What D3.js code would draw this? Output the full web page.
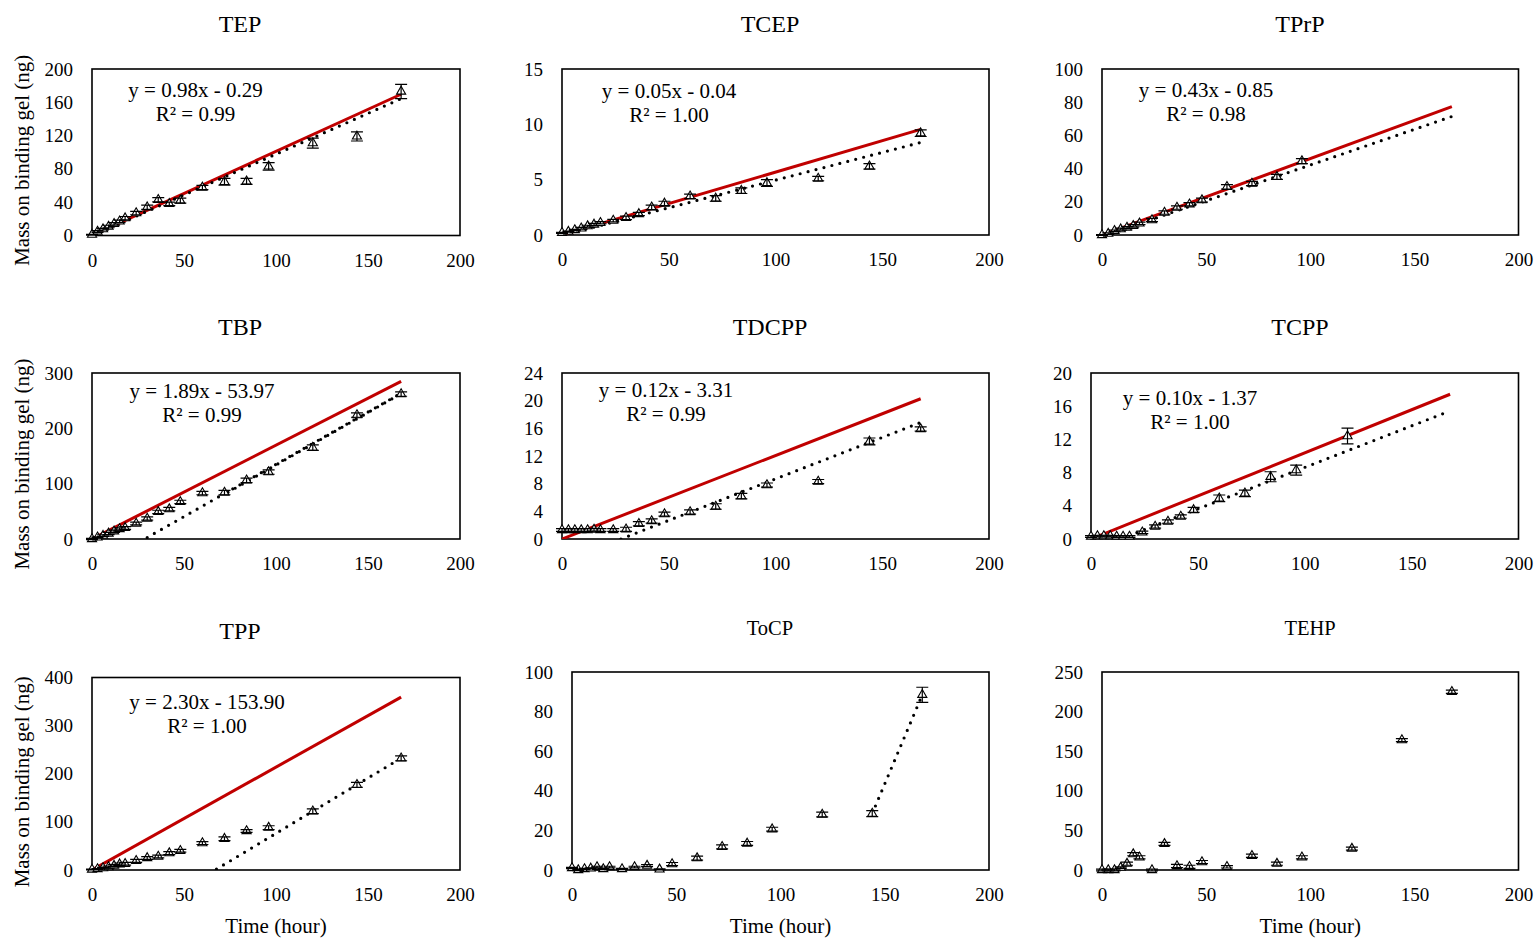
<!DOCTYPE html>
<html>
<head>
<meta charset="utf-8">
<script src="https://cdn.jsdelivr.net/npm/d3@7"></script>
<style>
  html, body { margin: 0; padding: 0; background: #fff; }
  svg { display: block; font-family: "Liberation Serif", "Times New Roman", serif; }
</style>
</head>
<body>
<div id="chart"></div>
<script>
// Sampling times (hour)
const hours = [0, 3, 6, 9, 12, 15, 18, 24, 30, 36, 42, 48, 60, 72, 84, 96, 120, 144, 168];

// Measured mass on binding gel (ng), mean and standard deviation per sampling time
const tepMass  = [1, 4.8, 7.6, 10.8, 14, 17, 20.8, 26.9, 34, 42.9, 38, 42, 57.7, 64.5, 65, 83, 111, 119, 173];
const tepSd    = [0.5, 1, 1, 1.5, 1.5, 1.5, 2, 2, 2.5, 2.5, 2, 3, 2.5, 4, 3.5, 4.5, 6, 5.5, 8.5];

const tcepMass = [0.2, 0.3, 0.45, 0.6, 0.8, 0.95, 1.1, 1.3, 1.55, 1.9, 2.5, 2.85, 3.5, 3.3, 4.0, 4.7, 5.1, 6.2, 9.2];
const tcepSd   = [0.05, 0.05, 0.05, 0.08, 0.08, 0.1, 0.1, 0.12, 0.15, 0.15, 0.2, 0.2, 0.2, 0.25, 0.25, 0.3, 0.2, 0.25, 0.3];

const tprpMass = [0, 0.8, 2.5, 3.5, 4.5, 5.5, 7, 9, 13.5, 16.5, 18.5, 21, 29, 31, 35, 44.5];
const tprpSd   = [0.3, 0.5, 0.5, 0.6, 0.6, 0.8, 0.8, 1, 1, 1, 1, 1.2, 1.3, 1.3, 1.5, 1.5];

const tbpMass  = [0, 3, 6, 10, 14, 18, 20, 28, 37, 49, 54, 67, 83, 84, 106, 121, 165, 224, 262];
const tbpSd    = [1, 1, 1.5, 2, 2, 2, 2.5, 2.5, 3, 3, 3, 3, 3, 4, 4, 4, 5, 4, 4];

const tdcppMass = [1.3, 1.3, 1.3, 1.3, 1.3, 1.35, 1.3, 1.3, 1.4, 2.2, 2.6, 3.6, 3.9, 4.7, 6.2, 7.8, 8.3, 14.1, 15.9];
const tdcppSd   = [0.2, 0.2, 0.2, 0.2, 0.2, 0.2, 0.2, 0.2, 0.3, 0.3, 0.3, 0.3, 0.3, 0.4, 0.4, 0.3, 0.3, 0.5, 0.3];

const tcppMass = [0.3, 0.35, 0.35, 0.35, 0.3, 0.3, 0.3, 0.8, 1.5, 2.1, 2.7, 3.5, 4.9, 5.5, 7.5, 8.3, 12.4];
const tcppSd   = [0.1, 0.1, 0.1, 0.1, 0.1, 0.1, 0.1, 0.15, 0.2, 0.2, 0.2, 0.3, 0.4, 0.4, 0.6, 0.6, 0.95];

const tppMass  = [1, 2, 4, 6, 9, 12, 13, 19, 25, 28, 35, 40, 56, 65, 81, 88, 122, 177, 232];
const tppSd    = [1, 1, 1.5, 2, 2, 2.5, 3, 3, 3, 3, 3, 3, 3, 4, 3, 4, 5, 5, 5];

const tocpMass = [1, 0, 0.5, 0.8, 1.5, 0.5, 1.5, 0.5, 1.5, 2.2, 0.3, 3, 6, 11.7, 13.4, 20.6, 28, 28.5, 88.5];
const tocpSd   = [0.3, 0.3, 0.3, 0.3, 0.4, 0.3, 0.4, 0.3, 0.4, 0.5, 0.3, 0.8, 1, 1, 1, 1, 1.2, 1.5, 3.8];

const tehpMass = [0, 0, 0, 3, 8, 20, 16, 0, 33, 5, 4, 10, 4, 18, 8, 16, 27, 164, 225];
const tehpSd   = [1, 1, 1, 1, 2, 2, 2, 1, 2, 2, 2, 2, 1.5, 2, 2, 2, 2, 2, 2];

// Compound names, y-axis maxima and steps
const compounds = ["TEP", "TCEP", "TPrP", "TBP", "TDCPP", "TCPP", "TPP", "ToCP", "TEHP"];
const yMax  = [200, 15, 100, 300, 24, 20, 400, 100, 250];
const yStep = [40, 5, 20, 100, 4, 4, 100, 20, 50];
const xTicks = [0, 50, 100, 150, 200];

// Predicted uptake rate (ng/hour) for the solid reference line
const predictedRate = [1.01, 0.0568, 0.46, 1.695, 0.1207, 0.1038, 2.138, null, null];

// Linear trendlines: slope, intercept, R², first hour of the fitted range
const trendSlope     = [0.98, 0.05, 0.43, 1.89, 0.12, 0.10, 2.30, null, null];
const trendIntercept = [-0.29, -0.04, -0.85, -53.97, -3.31, -1.37, -153.90, null, null];
const trendR2        = [0.99, 1.00, 0.98, 0.99, 0.99, 1.00, 1.00, null, null];
const trendFrom      = [0, 0, 0, 30, 24, 0, 60, 144, null];
// a second, overlapping trendline fitted over the late points only
const lateTrendFrom  = [null, null, null, 72, null, null, null, null, null];

const massSeries = [tepMass, tcepMass, tprpMass, tbpMass, tdcppMass, tcppMass, tppMass, tocpMass, tehpMass];
const sdSeries   = [tepSd, tcepSd, tprpSd, tbpSd, tdcppSd, tcppSd, tppSd, tocpSd, tehpSd];

// ---- layout ----
const W = 1536, H = 940;
const boxes = [
  { l: 92,   t: 69,    r: 460,    b: 235.5 },
  { l: 562,  t: 69,    r: 989,    b: 235 },
  { l: 1102, t: 69,    r: 1518.5, b: 235 },
  { l: 92,   t: 373,   r: 460,    b: 539 },
  { l: 562,  t: 373,   r: 989,    b: 539 },
  { l: 1091, t: 373,   r: 1518.5, b: 539 },
  { l: 92,   t: 677.5, r: 460,    b: 870 },
  { l: 572,  t: 672,   r: 989,    b: 870 },
  { l: 1102, t: 672,   r: 1518.5, b: 870 }
];
const titleLayout = [
  { x: 240, y: 31.5, size: 24 }, { x: 770, y: 31.5, size: 24 }, { x: 1300, y: 31.5, size: 24 },
  { x: 240, y: 335,  size: 24 }, { x: 770, y: 335,  size: 24 }, { x: 1300, y: 335,  size: 24 },
  { x: 240, y: 639,  size: 24 }, { x: 770, y: 635,  size: 20.5 }, { x: 1310, y: 635, size: 20.5 }
];
// equation label anchor: offset of centre / first baseline from plot top-left
const eqOffset = [
  { dx: 103.5, dy: 28 }, { dx: 107, dy: 29 }, { dx: 104, dy: 28 },
  { dx: 110, dy: 25 },   { dx: 104, dy: 24 }, { dx: 99, dy: 32 },
  { dx: 115, dy: 31.5 }, null, null
];

const serif = '"Liberation Serif", "Times New Roman", serif';

const svg = d3.select("#chart").append("svg")
  .attr("width", W).attr("height", H)
  .attr("viewBox", `0 0 ${W} ${H}`);

function fitLine(xs, ys) {
  const n = xs.length;
  const mx = d3.mean(xs), my = d3.mean(ys);
  let sxy = 0, sxx = 0;
  for (let i = 0; i < n; i++) { sxy += (xs[i] - mx) * (ys[i] - my); sxx += (xs[i] - mx) ** 2; }
  const m = sxy / sxx;
  return { m, c: my - m * mx };
}

const fmt2 = d3.format(".2f");

compounds.forEach((name, i) => {
  const b = boxes[i];
  const mass = massSeries[i], sd = sdSeries[i];
  const pts = mass.map((v, k) => ({ h: hours[k], v, sd: sd[k] }));

  const x = d3.scaleLinear().domain([0, 200]).range([b.l, b.r]);
  const y = d3.scaleLinear().domain([0, yMax[i]]).range([b.b, b.t]);

  const g = svg.append("g");

  // clip region for lines
  const clipId = `clip-${i}`;
  svg.append("clipPath").attr("id", clipId)
    .append("rect").attr("x", b.l).attr("y", b.t)
    .attr("width", b.r - b.l).attr("height", b.b - b.t);

  // title
  const tl = titleLayout[i];
  g.append("text")
    .attr("x", tl.x).attr("y", tl.y)
    .attr("text-anchor", "middle")
    .attr("font-family", serif).attr("font-size", tl.size)
    .attr("fill", "#000")
    .text(name);

  // axes (labels only, no tick marks)
  const yAxis = d3.axisLeft(y)
    .tickValues(d3.range(0, yMax[i] + 1e-9, yStep[i]))
    .tickSize(0).tickPadding(19)
    .tickFormat(d3.format("d"));
  g.append("g").attr("transform", `translate(${b.l},0)`).call(yAxis)
    .call(s => s.select(".domain").remove())
    .call(s => s.selectAll("text").attr("font-family", serif).attr("font-size", 19).attr("fill", "#000"));

  const xAxis = d3.axisBottom(x).tickValues(xTicks).tickSize(0).tickPadding(18)
    .tickFormat(d3.format("d"));
  g.append("g").attr("transform", `translate(0,${b.b})`).call(xAxis)
    .call(s => s.select(".domain").remove())
    .call(s => s.selectAll("text").attr("font-family", serif).attr("font-size", 19).attr("fill", "#000"));

  // plot-area border
  g.append("rect")
    .attr("x", b.l).attr("y", b.t)
    .attr("width", b.r - b.l).attr("height", b.b - b.t)
    .attr("fill", "none").attr("stroke", "#000").attr("stroke-width", 1.6);

  const lines = g.append("g").attr("clip-path", `url(#${clipId})`);

  // predicted uptake (solid red)
  if (predictedRate[i] != null) {
    const ref = [0, 168].map(h => ({ h, v: predictedRate[i] * h }));
    lines.append("path")
      .datum(ref)
      .attr("d", d3.line().x(d => x(d.h)).y(d => y(d.v)))
      .attr("fill", "none").attr("stroke", "#C00000").attr("stroke-width", 3);
  }

  // linear trendline (round dotted)
  const dotted = (from, m, c, offset) => {
    const t = [from, 168].map(h => ({ h, v: m * h + c }));
    lines.append("path")
      .datum(t)
      .attr("d", d3.line().x(d => x(d.h)).y(d => y(d.v)))
      .attr("fill", "none").attr("stroke", "#000")
      .attr("stroke-width", 3.2).attr("stroke-linecap", "round")
      .attr("stroke-dasharray", "0 8.2")
      .attr("stroke-dashoffset", offset);
  };
  if (trendFrom[i] != null) {
    let m, c;
    if (trendSlope[i] != null) {
      m = trendSlope[i]; c = trendIntercept[i];
    } else {
      const sub = pts.filter(p => p.h >= trendFrom[i]);
      ({ m, c } = fitLine(sub.map(p => p.h), sub.map(p => p.v)));
    }
    dotted(trendFrom[i], m, c, 0);
    if (lateTrendFrom[i] != null) {
      const sub = pts.filter(p => p.h >= lateTrendFrom[i]);
      const f = fitLine(sub.map(p => p.h), sub.map(p => p.v));
      dotted(lateTrendFrom[i], f.m, f.c, 4.1);
    }
  }

  // markers: open triangles
  const tri = d3.symbol().type(d3.symbolTriangle).size(36);
  g.append("g").selectAll("path.m").data(pts).join("path")
    .attr("class", "m")
    .attr("transform", d => `translate(${x(d.h)},${y(d.v)})`)
    .attr("d", tri)
    .attr("fill", "#fff").attr("stroke", "#000").attr("stroke-width", 1.1);

  // error bars
  const eb = g.append("g").attr("stroke", "#000").attr("stroke-width", 1.2).attr("fill", "none");
  const cap = 6;
  eb.selectAll("path").data(pts).join("path")
    .attr("d", d => {
      const cx = x(d.h), y1 = y(d.v + d.sd), y0 = y(d.v - d.sd);
      return `M${cx},${y0}V${y1}M${cx - cap},${y1}H${cx + cap}M${cx - cap},${y0}H${cx + cap}`;
    });

  // trendline equation label
  if (trendSlope[i] != null && eqOffset[i]) {
    const o = eqOffset[i];
    const c = trendIntercept[i];
    const eq = `y = ${fmt2(trendSlope[i])}x ${c < 0 ? "-" : "+"} ${fmt2(Math.abs(c))}`;
    const lab = g.append("text")
      .attr("font-family", serif).attr("font-size", 21).attr("fill", "#000")
      .attr("text-anchor", "middle");
    lab.append("tspan").attr("x", b.l + o.dx).attr("y", b.t + o.dy).text(eq);
    lab.append("tspan").attr("x", b.l + o.dx).attr("y", b.t + o.dy + 24).text(`R² = ${fmt2(trendR2[i])}`);
  }

  // axis titles
  if (i % 3 === 0) {
    const cy = (b.t + b.b) / 2 + 8;
    g.append("text")
      .attr("transform", `translate(28.5,${cy}) rotate(-90)`)
      .attr("text-anchor", "middle")
      .attr("font-family", serif).attr("font-size", 21).attr("fill", "#000")
      .text("Mass on binding gel (ng)");
  }
  if (i >= 6) {
    g.append("text")
      .attr("x", (b.l + b.r) / 2).attr("y", 933)
      .attr("text-anchor", "middle")
      .attr("font-family", serif).attr("font-size", 21).attr("fill", "#000")
      .text("Time (hour)");
  }
});
</script>
</body>
</html>
